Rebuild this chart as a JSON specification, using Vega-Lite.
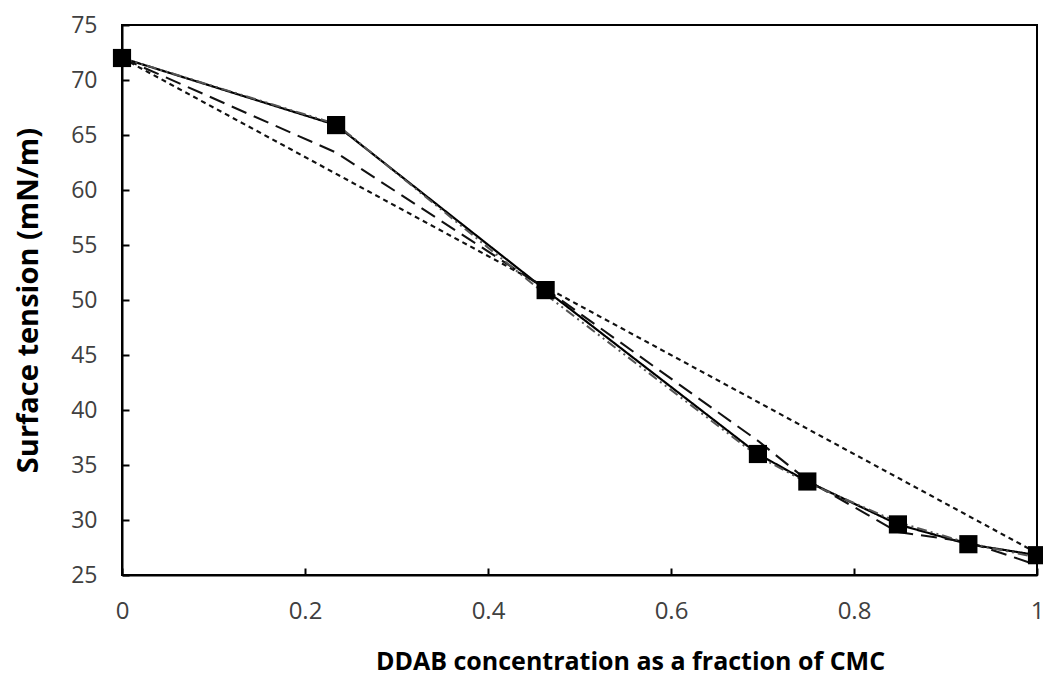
{
  "$schema": "https://vega.github.io/schema/vega-lite/v6.json",
  "autosize": "none",
  "width": 915,
  "height": 550,
  "padding": {"left": 122, "top": 25, "right": 6, "bottom": 109},
  "background": "white",
  "config": {
    "view": {"stroke": "black", "strokeWidth": 2},
    "axis": {"grid": false, "labelFlush": false, "domainColor": "black", "domainWidth": 2, "tickColor": "black", "tickWidth": 2, "labelColor": "#404040", "titleColor": "black", "labelFont": "Open Sans", "titleFont": "Open Sans"}
  },
  "datasets": {
    "pts": [
      {"s": "measured", "x": 0, "y": 72.0},
      {"s": "measured", "x": 0.234, "y": 65.9},
      {"s": "measured", "x": 0.463, "y": 50.9},
      {"s": "measured", "x": 0.695, "y": 36.0},
      {"s": "measured", "x": 0.749, "y": 33.5},
      {"s": "measured", "x": 0.848, "y": 29.6},
      {"s": "measured", "x": 0.925, "y": 27.8},
      {"s": "measured", "x": 1.0, "y": 26.8},
      {"s": "model_b", "x": 0, "y": 72.0},
      {"s": "model_b", "x": 0.234, "y": 63.4},
      {"s": "model_b", "x": 0.463, "y": 51.0},
      {"s": "model_b", "x": 0.695, "y": 37.2},
      {"s": "model_b", "x": 0.749, "y": 33.6},
      {"s": "model_b", "x": 0.848, "y": 28.9},
      {"s": "model_b", "x": 0.925, "y": 28.0},
      {"s": "model_b", "x": 1.0, "y": 25.9},
      {"s": "model_c", "x": 0, "y": 72.0},
      {"s": "model_c", "x": 1.0, "y": 27.0},
      {"s": "model_a", "x": 0, "y": 72.0},
      {"s": "model_a", "x": 0.234, "y": 66.0},
      {"s": "model_a", "x": 0.463, "y": 50.5},
      {"s": "model_a", "x": 0.695, "y": 35.8},
      {"s": "model_a", "x": 0.749, "y": 33.4},
      {"s": "model_a", "x": 0.848, "y": 29.8},
      {"s": "model_a", "x": 0.925, "y": 27.9},
      {"s": "model_a", "x": 1.0, "y": 26.6}
    ]
  },
  "data": {"name": "pts"},
  "encoding": {
    "x": {"field": "x", "type": "quantitative", "scale": {"domain": [0, 1], "nice": false},
      "axis": {"values": [0, 0.2, 0.4, 0.6, 0.8, 1], "format": "~g", "labelFlush": false, "tickSize": -7, "labelPadding": 31, "labelFontSize": 24, "title": "DDAB concentration as a fraction of CMC", "titleFontSize": 25, "titleFontWeight": "bold", "titlePadding": 26, "titleX": 508}},
    "y": {"field": "y", "type": "quantitative", "scale": {"domain": [25, 75], "nice": false, "zero": false},
      "axis": {"values": [25, 30, 35, 40, 45, 50, 55, 60, 65, 70, 75], "labelFlush": false, "tickSize": -7, "labelPadding": 32, "labelFontSize": 23, "title": "Surface tension (mN/m)", "titleFontSize": 29, "titleFontWeight": "bold", "titlePadding": 27}}
  },
  "layer": [
    {
      "mark": {"type": "line", "clip": true},
      "encoding": {
        "detail": {"field": "s"},
        "order": {"field": "x"},
        "strokeDash": {"field": "s", "type": "nominal", "legend": null,
          "scale": {"domain": ["model_a", "model_b", "model_c", "measured"], "range": [[10, 4, 2, 4, 2, 4], [16, 8], [5, 4], [1, 0]]}},
        "color": {"field": "s", "type": "nominal", "legend": null,
          "scale": {"domain": ["model_a", "model_b", "model_c", "measured"], "range": ["#555555", "#111111", "#111111", "#000000"]}},
        "strokeWidth": {"field": "s", "type": "nominal", "legend": null,
          "scale": {"domain": ["model_a", "model_b", "model_c", "measured"], "range": [2, 2.2, 2, 2.5]}}
      }
    },
    {
      "transform": [{"filter": "datum.s === 'measured'"}],
      "mark": {"type": "square", "size": 330, "filled": true, "color": "black", "opacity": 1, "clip": false}
    }
  ]
}
